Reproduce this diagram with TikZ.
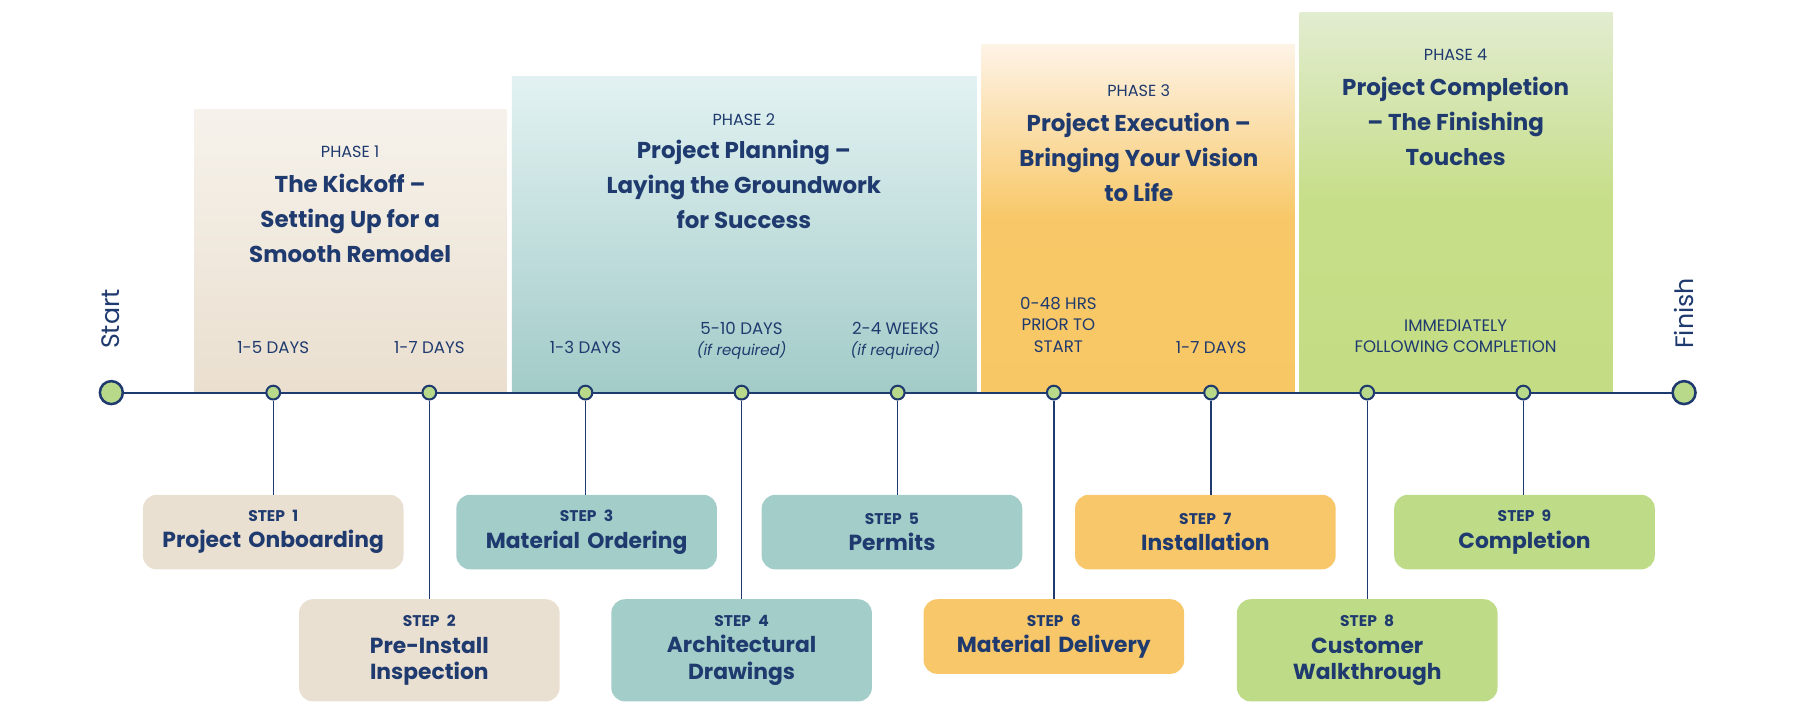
\documentclass[tikz,border=0pt]{standalone}
\usepackage{fontspec}
\setmainfont{Poppins}
\definecolor{navy}{HTML}{1F3A6E}
\definecolor{lg}{HTML}{B8D98A}
\definecolor{sbeige}{HTML}{EAE0D1}
\definecolor{steal}{HTML}{A3CDC9}
\definecolor{sorange}{HTML}{F8C76A}
\definecolor{sgreen}{HTML}{BEDC88}
\newcommand\mystepnum{\fontsize{13.5}{16}\selectfont\bfseries}
\begin{document}
\begin{tikzpicture}[x=1pt,y=-1pt,
  stepbox/.style={rounded corners=12pt,minimum width=227pt,text width=220pt,align=center,inner sep=0pt,text=navy,font=\fontsize{19}{23}\selectfont\bfseries},
  dur/.style={text=navy,font=\fontsize{14.5}{18.5}\selectfont,align=center},
  ptitle/.style={text=navy,font=\fontsize{20}{30.5}\selectfont\bfseries,align=center},
  plab/.style={text=navy,font=\fontsize{14}{17}\selectfont},
  bigdot/.style={circle,draw=navy,line width=2.2pt,fill=lg,minimum size=20pt,inner sep=0pt},
  dot/.style={circle,draw=navy,line width=1.8pt,fill=lg,minimum size=12pt,inner sep=0pt},
  stem/.style={draw=navy,line width=1.2pt}]
\useasboundingbox (0,0) rectangle (1568,627);
% phase boxes
\shade[top color={rgb,255:red,246;green,242;blue,235},bottom color={rgb,255:red,234;green,223;blue,207}] (169,95) rectangle (441,342);
\shade[top color={rgb,255:red,226;green,242;blue,242},bottom color={rgb,255:red,162;green,203;blue,200}] (446,67) rectangle (851,342);
\shade[top color={rgb,255:red,253;green,243;blue,230},bottom color={rgb,255:red,248;green,199;blue,101},middle color={rgb,255:red,248;green,200;blue,104}] (855,39) rectangle (1128,342);
\shade[top color={rgb,255:red,226;green,236;blue,208},bottom color={rgb,255:red,196;green,221;blue,132},middle color={rgb,255:red,198;green,222;blue,136}] (1132,11) rectangle (1405,342);
% phase texts
\node[plab] (p1l) at (305,132) {PHASE 1};
\node[ptitle] (p1t) at (305,190) {The Kickoff –\\Setting Up for a\\Smooth Remodel};
\node[plab] (p2l) at (648,104) {PHASE 2};
\node[ptitle] (p2t) at (648,161) {Project Planning –\\Laying the Groundwork\\for Success};
\node[plab] (p3l) at (992,79) {PHASE 3};
\node[ptitle] (p3t) at (992,137) {Project Execution –\\Bringing Your Vision\\to Life};
\node[plab] (p4l) at (1268,48) {PHASE 4};
\node[ptitle] (p4t) at (1268,106) {Project Completion\\– The Finishing\\Touches};
% durations
\node[dur] (d1) at (238,303) {1-5 DAYS};
\node[dur] (d2) at (374,303) {1-7 DAYS};
\node[dur] (d3) at (510,303) {1-3 DAYS};
\node[dur] (d4) at (646,297) {5-10 DAYS\\{\itshape\fontsize{13}{16}\selectfont(if required)}};
\node[dur] (d5) at (780,297) {2-4 WEEKS\\{\itshape\fontsize{13}{16}\selectfont(if required)}};
\node[dur] (d6) at (922,283) {0-48 HRS\\PRIOR TO\\START};
\node[dur] (d7) at (1055,303) {1-7 DAYS};
\node[dur] (d8) at (1268,293) {IMMEDIATELY\\FOLLOWING COMPLETION};
% start / finish
\node[text=navy,font=\fontsize{22}{26}\selectfont,rotate=90] (st) at (96,278) {Start};
\node[text=navy,font=\fontsize{22}{26}\selectfont,rotate=90] (fi) at (1467,273) {Finish};
% step boxes
\node[stepbox,fill=sbeige,minimum height=65pt] (s1) at (238,463.5) {{\mystepnum STEP 1}\\Project Onboarding};
\node[stepbox,fill=sbeige,minimum height=89pt] (s2) at (374,566.5) {{\mystepnum STEP 2}\\Pre-Install\\Inspection};
\node[stepbox,fill=steal,minimum height=65pt] (s3) at (511,463.5) {{\mystepnum STEP 3}\\Material Ordering};
\node[stepbox,fill=steal,minimum height=89pt] (s4) at (646,566.5) {{\mystepnum STEP 4}\\Architectural\\Drawings};
\node[stepbox,fill=steal,minimum height=65pt] (s5) at (777,463.5) {{\mystepnum STEP 5}\\Permits};
\node[stepbox,fill=sorange,minimum height=65pt] (s6) at (918,554.5) {{\mystepnum STEP 6}\\Material Delivery};
\node[stepbox,fill=sorange,minimum height=65pt] (s7) at (1050,463.5) {{\mystepnum STEP 7}\\Installation};
\node[stepbox,fill=sgreen,minimum height=89pt] (s8) at (1191,566.5) {{\mystepnum STEP 8}\\Customer\\Walkthrough};
\node[stepbox,fill=sgreen,minimum height=65pt] (s9) at (1328,463.5) {{\mystepnum STEP 9}\\Completion};
% timeline
\coordinate (a) at (97,342);
\coordinate (b) at (1467,342);
\draw[navy,line width=1.8pt] (a) -- (b);
\foreach \x/\s in {238/s1,374/s2,510/s3,646/s4,782/s5,918/s6,1055/s7,1191/s8,1327/s9}{
  \node[dot] (c\s) at (\x,342) {};
  \draw[stem] (c\s.south) -- (c\s.south |- \s.north);
}
\node[bigdot] (n0) at (a) {};
\node[bigdot] (n1) at (b) {};
\end{tikzpicture}
\end{document}
